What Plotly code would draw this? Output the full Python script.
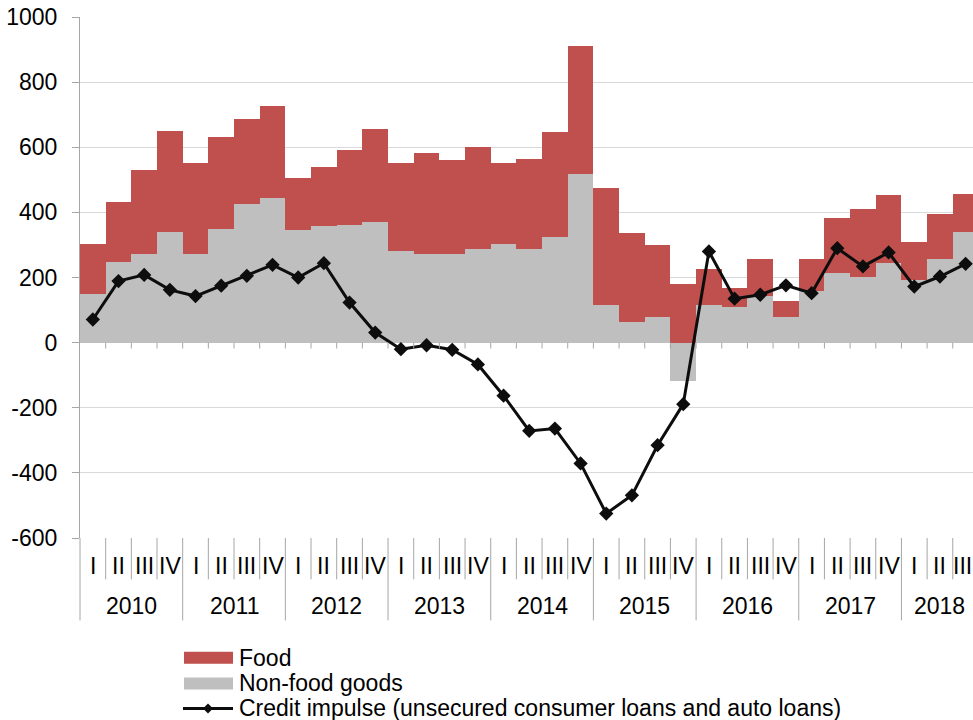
import plotly.graph_objects as go

quarters = ["I", "II", "III", "IV"] * 8 + ["I", "II", "III"]
years = ["2010", "2011", "2012", "2013", "2014", "2015", "2016", "2017", "2018"]

nonfood = [149, 247, 272, 341, 273, 350, 426, 443, 346, 358, 361, 370, 281, 271, 272, 288,
           303, 288, 324, 519, 117, 62, 80, -118, 116, 109, 142, 80, 159, 215, 202, 244,
           193, 257, 341]
food = [153, 184, 257, 310, 278, 281, 260, 285, 159, 181, 232, 285, 270, 310, 289, 312,
        248, 276, 323, 393, 358, 274, 219, 181, 111, 59, 114, 47, 97, 169, 208, 210,
        116, 138, 116]
credit = [71, 189, 208, 162, 143, 175, 205, 239, 200, 244, 123, 31, -20, -8, -22, -67,
          -163, -271, -264, -371, -525, -469, -315, -189, 280, 135, 147, 176, 152, 290, 234, 277,
          172, 203, 242]

ytick_vals = [-600, -400, -200, 0, 200, 400, 600, 800, 1000]
ytick_text = ["-600", "-400", "-200", "0", "200", "400", "600", "800", "1000"]

RED = "#C0504D"
GREY = "#BFBFBF"
LINE = "#0d0d0d"
AXIS = "#a6a6a6"
FONT = "Liberation Sans, Arial, sans-serif"
FS = 23

W, H = 973, 720
TOP, BOT = 17, 537.7
n = len(quarters)
x = list(range(n))


def py(pix):
    return (BOT - pix) / (BOT - TOP)


def px(pix):
    return (pix - 80) / (W - 80)


fig = go.Figure()
fig.add_trace(go.Bar(x=x, y=nonfood, marker=dict(color=GREY, line=dict(width=0)), name="Non-food goods"))
fig.add_trace(go.Bar(x=x, y=food, marker=dict(color=RED, line=dict(width=0)), name="Food"))
fig.add_trace(go.Scatter(x=x, y=credit, mode="lines+markers",
                         line=dict(color=LINE, width=3),
                         marker=dict(symbol="diamond", size=11, color=LINE),
                         name="Credit impulse (unsecured consumer loans and auto loans)"))

shapes = []
annotations = []
# ticks on zero line
for i in range(n - 1):
    shapes.append(dict(type="line", xref="x", yref="y", x0=i + 0.5, x1=i + 0.5, y0=0, y1=-18,
                       line=dict(color=AXIS, width=1)))
# category separators
for i in range(n - 1):
    end = 620 if (i + 1) % 4 == 0 else 579
    shapes.append(dict(type="line", xref="x", yref="paper", x0=i + 0.5, x1=i + 0.5,
                       y0=0, y1=py(end), line=dict(color=AXIS, width=1)))
# left axis extension
shapes.append(dict(type="line", xref="paper", yref="paper", x0=0, x1=0, y0=py(537.7), y1=py(620),
                   line=dict(color=AXIS, width=1)))
# quarter labels
for i, q in enumerate(quarters):
    annotations.append(dict(x=i, y=py(566), xref="x", yref="paper", text=q, showarrow=False,
                            xshift=-3 if i == n - 1 else 0,
                            font=dict(family=FONT, size=FS, color="#000"), yanchor="middle"))
# year labels
for k, yr in enumerate(years):
    idx = [i for i in range(k * 4, min(k * 4 + 4, n))]
    cx = (idx[0] + idx[-1]) / 2
    annotations.append(dict(x=cx, y=py(606), xref="x", yref="paper", text=yr, showarrow=False,
                            font=dict(family=FONT, size=FS, color="#000"), yanchor="middle"))
# legend
legend_rows = [(657.5, "Food", "rect", RED), (683, "Non-food goods", "rect", GREY),
               (708, "Credit impulse (unsecured consumer loans and auto loans)", "line", LINE)]
for yc, label, kind, col in legend_rows:
    if kind == "rect":
        shapes.append(dict(type="rect", xref="paper", yref="paper", x0=px(184), x1=px(233),
                           y0=py(yc - 6), y1=py(yc + 6), fillcolor=col, line=dict(width=0)))
    else:
        shapes.append(dict(type="line", xref="paper", yref="paper", x0=px(183), x1=px(233),
                           y0=py(yc), y1=py(yc), line=dict(color=col, width=3)))
        shapes.append(dict(type="path", xref="paper", yref="paper",
                           path="M {},{} L {},{} L {},{} L {},{} Z".format(
                               px(208 - 5), py(yc), px(208), py(yc - 5), px(208 + 5), py(yc), px(208), py(yc + 5)),
                           fillcolor=col, line=dict(width=0)))
    annotations.append(dict(x=px(237), y=py(yc), xref="paper", yref="paper", text=label,
                            showarrow=False, xanchor="left", yanchor="middle",
                            font=dict(family=FONT, size=FS, color="#000")))

fig.update_layout(
    width=W, height=H,
    margin=dict(l=80, r=0, t=TOP, b=H - BOT),
    barmode="relative", bargap=0,
    plot_bgcolor="white", paper_bgcolor="white",
    showlegend=False,
    shapes=shapes, annotations=annotations,
    font=dict(family=FONT, size=FS, color="#000"),
)
fig.update_xaxes(range=[-0.5, (W - 80) / 25.67 - 0.5], showticklabels=False, showgrid=False,
                 zeroline=False, showline=False, ticks="")
fig.update_yaxes(range=[-600, 1000], tickvals=ytick_vals, ticktext=ytick_text,
                 showgrid=True, gridcolor="#d9d9d9", gridwidth=1.3,
                 zeroline=True, zerolinecolor=AXIS, zerolinewidth=1,
                 showline=True, linecolor=AXIS, linewidth=1,
                 ticks="outside", ticklen=7, tickcolor=AXIS,
                 tickfont=dict(family=FONT, size=FS, color="#000"), ticklabelstandoff=10)

fig.write_html("out.html", config={"displayModeBar": False},
               post_script="document.body.style.margin='0';document.body.style.overflow='hidden';")
